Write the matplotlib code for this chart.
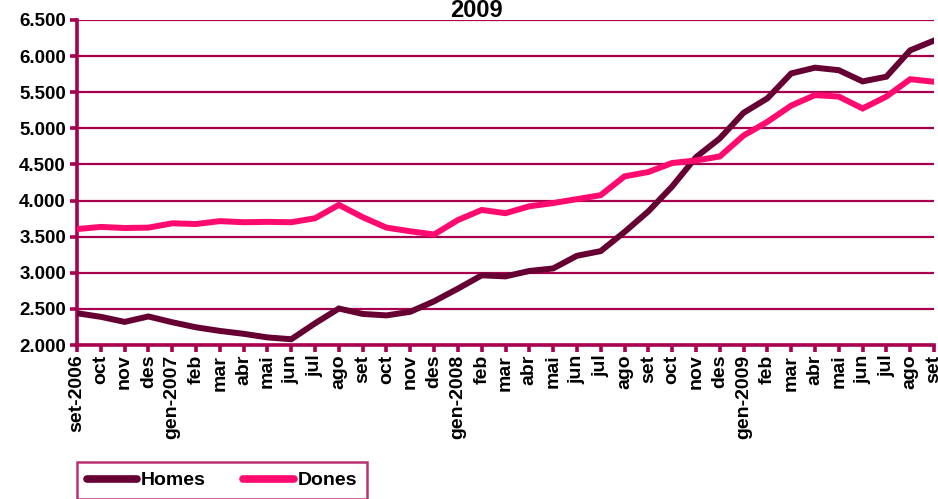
import matplotlib
matplotlib.use("Agg")
import matplotlib.pyplot as plt
from matplotlib.ticker import FuncFormatter

months = ["set-2006", "oct", "nov", "des", "gen-2007", "feb", "mar", "abr", "mai", "jun",
          "jul", "ago", "set", "oct", "nov", "des", "gen-2008", "feb", "mar", "abr", "mai",
          "jun", "jul", "ago", "set", "oct", "nov", "des", "gen-2009", "feb", "mar", "abr",
          "mai", "jun", "jul", "ago", "set"]

homes = [2440, 2390, 2320, 2395, 2315, 2245, 2195, 2155, 2105, 2080,
         2300, 2505, 2430, 2410, 2460, 2605, 2780, 2965, 2950, 3025, 3060,
         3235, 3300, 3565, 3850, 4195, 4600, 4860, 5215, 5415, 5760, 5840,
         5805, 5650, 5715, 6080, 6215]

dones = [3605, 3635, 3620, 3625, 3685, 3675, 3715, 3700, 3705, 3700,
         3755, 3940, 3770, 3625, 3575, 3530, 3730, 3870, 3825, 3920, 3965,
         4020, 4075, 4335, 4395, 4520, 4555, 4610, 4900, 5090, 5315, 5460,
         5440, 5275, 5440, 5680, 5645]

yticks = [2000, 2500, 3000, 3500, 4000, 4500, 5000, 5500, 6000, 6500]
title = "2009"

AXC = "#A8004F"
HOMES_C = "#660033"
DONES_C = "#FF0A6E"
FONT = "Liberation Sans"

fig = plt.figure(figsize=(9.38, 4.99), dpi=100)
ax = fig.add_axes([77/938, 1-345/499, (934-77)/938, (345-20)/499])

x = list(range(len(months)))
ax.plot(x, homes, color=HOMES_C, lw=4.3, label="Homes", solid_joinstyle="miter", zorder=3)
ax.plot(x, dones, color=DONES_C, lw=4.3, label="Dones", solid_joinstyle="miter", zorder=3)

ax.set_xlim(0, len(months)-1)
ax.set_ylim(2000, 6500)
ax.set_yticks(yticks)
ax.yaxis.set_major_formatter(FuncFormatter(lambda v, p: f"{int(v):,}".replace(",", ".")))
ax.set_xticks(x)
ax.set_xticklabels(months, rotation=90, fontfamily=FONT, fontweight="bold", fontsize=14)
for lbl in ax.get_yticklabels():
    lbl.set_fontfamily(FONT)
    lbl.set_fontweight("bold")
    lbl.set_fontsize(13.5)

ax.grid(axis="y", color=AXC, lw=1.6, zorder=1)
ax.set_axisbelow(True)
for s in ["top", "right"]:
    ax.spines[s].set_visible(False)
for s in ["left", "bottom"]:
    ax.spines[s].set_color(AXC)
    ax.spines[s].set_linewidth(2.6)
ax.tick_params(axis="both", colors=AXC, width=2.6, length=5, labelcolor="black")
ax.tick_params(axis="x", pad=2)
ax.tick_params(axis="y", pad=3)

fig.text(476/938, 1-17/499, title, ha="center", va="baseline",
         fontfamily=FONT, fontweight="bold", fontsize=17)

leg = fig.legend(loc="upper left", bbox_to_anchor=(77/938, 1-462/499), ncol=2,
                 prop={"family": FONT, "weight": "bold", "size": 14},
                 frameon=True, fancybox=False, edgecolor=AXC, handlelength=2.6,
                 handletextpad=0.2, columnspacing=1.9, borderpad=0.5, borderaxespad=0)
leg.get_frame().set_linewidth(1.8)
for h in leg.get_lines():
    h.set_linewidth(5.5)
    h.set_solid_capstyle("round")

fig.savefig("out.png", dpi=100)
